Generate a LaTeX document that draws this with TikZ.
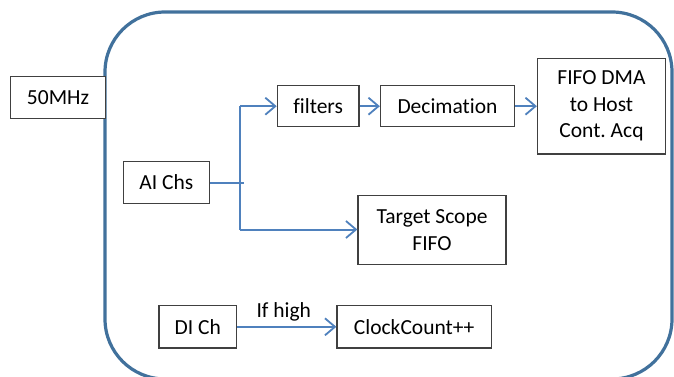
\documentclass[tikz,border=0pt]{standalone}
\usepackage{fontspec}
\setmainfont{Carlito}[Ligatures=NoCommon]
\usetikzlibrary{arrows.meta}
\definecolor{frameblue}{HTML}{41719C}
\definecolor{linkblue}{HTML}{4F81BD}
\definecolor{boxgray}{HTML}{404040}
\tikzset{
  blk/.style={draw=boxgray, line width=1.3pt, fill=white, inner sep=0pt, align=center,
    font=\fontsize{21.5}{26.5}\selectfont},
  link/.style={draw=linkblue, line width=2pt},
  arr/.style={link, -{Straight Barb[length=10pt,width=17pt,line width=1.8pt]}},
}
\frenchspacing
\begin{document}
\begin{tikzpicture}[x=1pt,y=-1pt]
\useasboundingbox (0,0) rectangle (674,377);
\fill[white] (0,0) rectangle (674,377);
\draw[frameblue, line width=3.2pt, rounded corners=60pt] (105,12) rectangle (672,379);
\node[blk, minimum width=94.6pt, minimum height=41.6pt] (clk) at (58,97.5) {50MHz};
\node[blk, minimum width=86pt, minimum height=41.6pt] (ai) at (166.4,182.5) {AI Chs};
\node[blk, minimum width=81.7pt, minimum height=41pt] (filt) at (318.2,106.2) {filters};
\node[blk, minimum width=134pt, minimum height=41pt] (dec) at (447.5,106.2) {Decimation};
\node[blk, minimum width=128pt, minimum height=95.7pt] (fifo) at (601.5,106.2) {FIFO DMA\\to Host\\Cont. Acq};
\node[blk, minimum width=148pt, minimum height=68.6pt] (scope) at (432,230) {Target Scope\\FIFO};
\node[blk, minimum width=77.5pt, minimum height=42.3pt] (di) at (197.8,326.8) {DI Ch};
\node[blk, minimum width=154.4pt, minimum height=42.3pt] (cc) at (414.2,326.8) {ClockCount++};
\coordinate (bt) at (240,106.2);
\coordinate (bb) at (240,229.5);
\coordinate (aie) at (243.5,182.5);
\draw[link] (ai.east) -- (aie);
\draw[link] (bt) -- (bb);
\draw[arr] (bt) -- (filt.west);
\draw[arr] (bb) -- (bb -| scope.west);
\draw[arr] (filt.east) -- (dec.west);
\draw[arr] (dec.east) -- (dec.east -| fifo.west);
\draw[arr] (di.east) -- node[above, font=\fontsize{21.5}{25}\selectfont, yshift=1pt, xshift=-3pt] {If high} (cc.west);
\end{tikzpicture}
\end{document}
